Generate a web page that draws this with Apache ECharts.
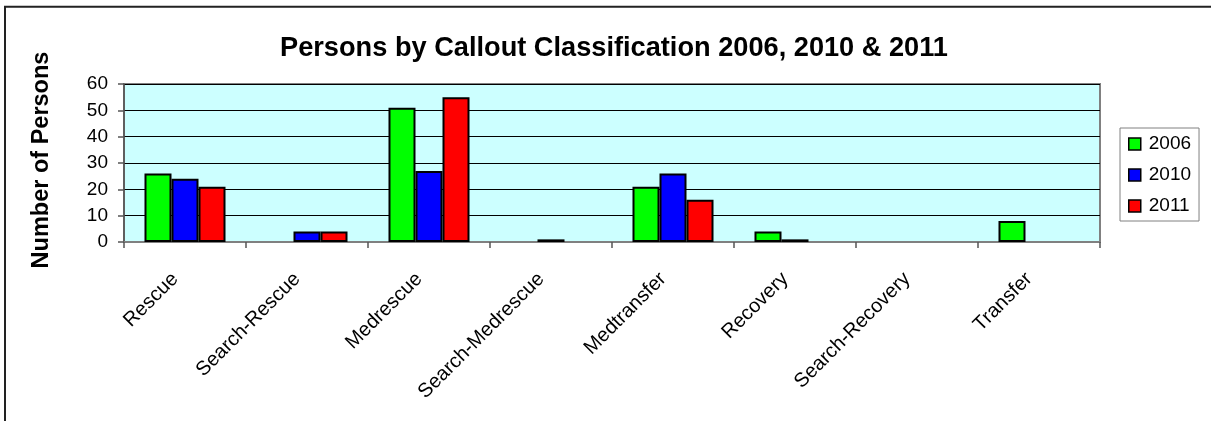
<!DOCTYPE html>
<html>
<head>
<meta charset="utf-8">
<title>Persons by Callout Classification</title>
<script src="https://cdn.jsdelivr.net/npm/echarts@6/dist/echarts.min.js"></script>
<style>
  html, body { margin: 0; padding: 0; background: #ffffff; }
  #chart { width: 1211px; height: 421px; }
</style>
</head>
<body>
<div id="chart"></div>
<script>
// Callout classifications along the x axis
const categories = ['Rescue', 'Search-Rescue', 'Medrescue', 'Search-Medrescue',
                    'Medtransfer', 'Recovery', 'Search-Recovery', 'Transfer'];

// Persons per classification, one array per year
const years = ['2006', '2010', '2011'];
const persons2006 = [26, 0, 51, 0, 21, 4, 0, 8];
const persons2010 = [24, 4, 27, 1, 26, 1, 0, 0];
const persons2011 = [21, 4, 55, 0, 16, 0, 0, 0];

// Value axis ticks
const yTicks = [0, 10, 20, 30, 40, 50, 60];

const titleText = 'Persons by Callout Classification 2006, 2010 & 2011';
const yAxisTitle = 'Number of Persons';

const seriesColors = ['#00FF00', '#0000FF', '#FF0000'];
const FONT = 'Liberation Sans, Arial, sans-serif';

// empty bars are left out rather than drawn as a flat outline
const asBars = arr => arr.map(v => (v === 0 ? null : v));

const chart = echarts.init(document.getElementById('chart'), null, { renderer: 'canvas' });

const option = {
  animation: false,
  backgroundColor: '#ffffff',
  textStyle: { fontFamily: FONT },
  title: {
    text: titleText,
    left: 614,
    top: 48.5,
    textAlign: 'center',
    textVerticalAlign: 'middle',
    padding: 0,
    textStyle: { fontFamily: FONT, fontSize: 27.2, fontWeight: 'bold', color: '#000' }
  },
  grid: {
    left: 124, top: 84, width: 976, height: 158,
    show: true,
    backgroundColor: '#CCFFFF',
    borderColor: '#808080',
    borderWidth: 2,
    containLabel: false
  },
  legend: {
    orient: 'vertical',
    left: 1120,
    top: 128,
    data: years,
    padding: [6, 8, 5, 8],
    itemGap: 11,
    itemWidth: 12,
    itemHeight: 12,
    borderColor: '#808080',
    borderWidth: 1,
    backgroundColor: '#ffffff',
    icon: 'rect',
    itemStyle: { borderColor: '#000', borderWidth: 1.5 },
    textStyle: { fontFamily: FONT, fontSize: 19, color: '#000', lineHeight: 20, padding: [0, 0, 0, 3] }
  },
  xAxis: {
    type: 'category',
    data: categories,
    axisLine: { show: true, lineStyle: { color: '#808080', width: 2 } },
    axisTick: { show: true, length: 6, lineStyle: { color: '#555', width: 1.5 } },
    axisLabel: {
      rotate: 45,
      margin: 24,
      interval: 0,
      padding: [0, 14, 0, 0],
      fontFamily: FONT,
      fontSize: 20,
      color: '#000'
    },
    splitLine: { show: false }
  },
  yAxis: {
    type: 'value',
    min: yTicks[0],
    max: yTicks[yTicks.length - 1],
    interval: yTicks[1] - yTicks[0],
    axisLine: { show: true, lineStyle: { color: '#555', width: 1.5 } },
    axisTick: { show: true, length: 6, lineStyle: { color: '#555', width: 1.5 } },
    axisLabel: { margin: 16, fontFamily: FONT, fontSize: 19, color: '#000' },
    splitLine: { show: true, lineStyle: { color: '#000', width: 1 } }
  },
  graphic: [
    {
      type: 'rect',
      silent: true,
      shape: { x: 5, y: 6.7, width: 1400, height: 600 },
      style: { fill: 'none', stroke: '#222', lineWidth: 2 },
      z: 100
    },
    {
      type: 'text',
      x: 42,
      y: 160,
      rotation: Math.PI / 2,
      style: {
        text: yAxisTitle,
        align: 'center',
        verticalAlign: 'middle',
        fontFamily: FONT,
        fontSize: 23.5,
        fontWeight: 'bold',
        fill: '#000'
      }
    }
  ],
  series: [persons2006, persons2010, persons2011].map((vals, i) => ({
    name: years[i],
    type: 'bar',
    data: asBars(vals),
    barGap: '0%',
    barCategoryGap: '33.6%',
    itemStyle: { color: seriesColors[i], borderColor: '#000', borderWidth: 2 }
  }))
};

chart.setOption(option);
</script>
</body>
</html>
